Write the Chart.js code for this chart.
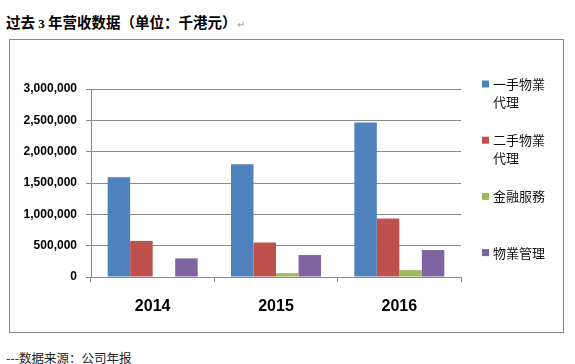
<!DOCTYPE html>
<html>
<head>
<meta charset="utf-8">
<script src="https://cdn.jsdelivr.net/npm/chart.js@4/dist/chart.umd.min.js"></script>
<style>
  html, body { margin: 0; padding: 0; background: #ffffff; }
  body { width: 575px; height: 364px; position: relative; overflow: hidden; }
  #title { position: absolute; left: 6px; top: 12px; font: bold 14.5px "Noto Sans CJK SC", sans-serif; color: #000; white-space: nowrap; line-height: 20px; }
  #title .num { font-family: "Liberation Serif", serif; font-size: 13px; }
  #title .pm { color: #999; font-weight: normal; font-size: 10px; }
  #box { position: absolute; left: 9px; top: 39px; width: 555px; height: 294px; box-sizing: border-box; border: 1px solid #8a8a8a; }
  #footer { position: absolute; left: 6px; top: 349px; font: 12.5px "Noto Sans CJK SC", sans-serif; color: #222; white-space: nowrap; line-height: 18px; }
  canvas { display: block; }
</style>
</head>
<body>
<div id="title">过去 <span class="num">3</span> 年营收数据（单位：千港元）<span class="pm">↵</span></div>
<div id="box"><canvas id="c" width="553" height="292"></canvas></div>
<div id="footer">---数据来源：公司年报</div>
<script>
const categories = ['2014', '2015', '2016'];
const seriesNames = ['一手物業代理', '二手物業代理', '金融服務', '物業管理'];
const legendLines = [['一手物業', '代理'], ['二手物業', '代理'], ['金融服務'], ['物業管理']];
const firstHand = [1590000, 1800000, 2465000];
const secondHand = [576000, 550000, 935000];
const financial = [0, 61000, 110000];
const management = [297000, 350000, 430000];
const yTicks = [0, 500000, 1000000, 1500000, 2000000, 2500000, 3000000];
const colors = ['#4F81BD', '#C0504D', '#9BBB59', '#8064A2'];
const seriesValues = [firstHand, secondHand, financial, management];

const legendPlugin = {
  id: 'sideLegend',
  afterDraw(chart) {
    const ctx = chart.ctx;
    ctx.save();
    ctx.font = '13px "Noto Sans CJK TC", sans-serif';
    ctx.textBaseline = 'middle';
    ctx.textAlign = 'left';
    legendLines.forEach((lines, i) => {
      const y0 = 44 + i * 56.2;
      ctx.fillStyle = colors[i];
      ctx.fillRect(472, y0 - 3.5, 7, 7);
      ctx.fillStyle = '#111';
      lines.forEach((ln, j) => ctx.fillText(ln, 483, y0 + j * 18.3));
    });
    ctx.restore();
  }
};

new Chart(document.getElementById('c'), {
  type: 'bar',
  data: {
    labels: categories,
    datasets: seriesNames.map((name, i) => ({
      label: name,
      data: seriesValues[i],
      backgroundColor: colors[i],
      borderWidth: 0,
      categoryPercentage: 0.73,
      barPercentage: 1.0
    }))
  },
  options: {
    responsive: false,
    animation: false,
    devicePixelRatio: 1,
    layout: { padding: { top: 49, right: 102, bottom: 0, left: 0 } },
    plugins: { legend: { display: false }, tooltip: { enabled: false }, title: { display: false } },
    scales: {
      x: {
        grid: { offset: true, drawOnChartArea: false, tickLength: 5, color: '#8a8a8a' },
        border: { color: '#8a8a8a' },
        ticks: { padding: 15, color: '#000', font: { family: '"Liberation Sans", Arial, sans-serif', size: 16, weight: 'bold' } },
        afterFit(s) { s.height = 55; }
      },
      y: {
        min: 0, max: 3000000,
        afterBuildTicks(s) { s.ticks = yTicks.map(v => ({ value: v })); },
        grid: { color: '#8a8a8a', tickLength: 5 },
        border: { color: '#8a8a8a' },
        ticks: {
          padding: 9, color: '#000',
          font: { family: '"Liberation Sans", Arial, sans-serif', size: 12, weight: 'bold' },
          callback: v => Number(v).toLocaleString('en-US')
        },
        afterFit(s) { s.width = 81; }
      }
    }
  },
  plugins: [legendPlugin]
});
</script>
</body>
</html>
